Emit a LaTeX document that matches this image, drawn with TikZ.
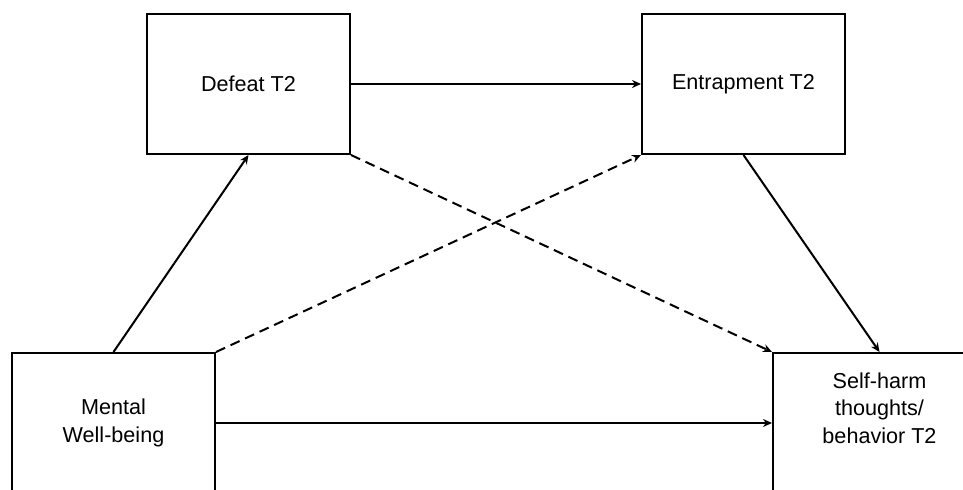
\documentclass[tikz,border=0pt]{standalone}
\usepackage{fontspec}
\setmainfont{Liberation Sans}
\usetikzlibrary{arrows.meta,calc,positioning}
\tikzset{
  box/.style={draw,line width=1pt,minimum width=101.5pt,minimum height=70pt,align=center,
    font=\fontsize{10.8}{13.7}\selectfont},
  path/.style={line width=1pt,-{Stealth[length=4.5pt,width=4pt]}},
  dpath/.style={path,dash pattern=on 5pt off 3pt}
}
\begin{document}
\begin{tikzpicture}[x=0.5pt,y=-0.5pt]
\useasboundingbox (0,0) rectangle (963,490);
\node[box] (def) at (248.5,84) {Defeat T2};
\node[box,anchor=west] at ($(def.east)+(290,0)$) (ent) {Entrapment T2};
\node[box] (mwb) at (113.5,423) {Mental\\Well-being};
\node[box,minimum width=106.5pt,text depth=15pt,anchor=west] at ($(mwb.east)+(556,0)$) (shb) {Self-harm\\thoughts/\\behavior T2};
\draw[path] (def.east) -- (ent.west);
\draw[path] (mwb.north) -- (def.south);
\draw[path] (ent.south) -- (shb.north);
\draw[path] (mwb.east) -- (shb.west);
\draw[dpath] (mwb.north east) -- (ent.south west);
\draw[dpath] (def.south east) -- (shb.north west);
\end{tikzpicture}
\end{document}
